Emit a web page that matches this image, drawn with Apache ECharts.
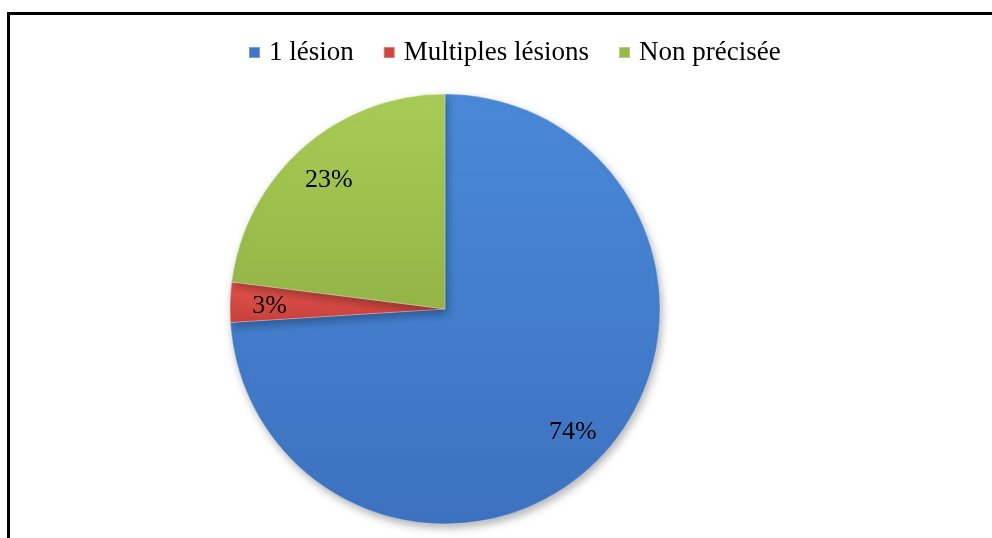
<!DOCTYPE html>
<html><head><meta charset="utf-8">
<script src="https://cdn.jsdelivr.net/npm/echarts@6/dist/echarts.min.js"></script>
<style>html,body{margin:0;padding:0;background:#fff}#c{width:992px;height:538px}</style>
</head><body><div id="c"></div>
<script>
const categories = ['1 lésion', 'Multiples lésions', 'Non précisée'];
const values = [74, 3, 23];
const topColors = ['#4a89d8', '#e2534c', '#a9cc56'];
const bottomColors = ['#3c72c0', '#c8403b', '#93b546'];
const legendColors = ['#3f78c8', '#d04540', '#98b84a'];

const chart = echarts.init(document.getElementById('c'));
const font = 'Liberation Serif';
const grad = (i) => new echarts.graphic.LinearGradient(0, 0, 0, 1, [
  { offset: 0, color: topColors[i] }, { offset: 1, color: bottomColors[i] }]);
const data = categories.map((n, i) => ({ name: n, value: values[i], itemStyle: { color: grad(i) } }));
const labelData = categories.map((n, i) => ({ name: n, value: values[i] }));
chart.setOption({
  animation: false,
  color: legendColors,
  legend: {
    top: 34, left: 243,
    itemWidth: 11, itemHeight: 11, itemGap: 29,
    icon: 'rect',
    textStyle: { fontFamily: font, fontSize: 27, color: '#000', padding: [0, 0, 0, 4] },
    data: categories.map((n, i) => ({ name: n, itemStyle: { color: legendColors[i] } }))
  },
  graphic: [{
    type: 'rect', silent: true, z: 100,
    shape: { x: 8.5, y: 13.5, width: 1200, height: 800 },
    style: { fill: 'none', stroke: '#000', lineWidth: 3 }
  }],
  series: [{
    type: 'pie', center: [445, 309], radius: [0, 215],
    startAngle: 90, clockwise: true,
    label: { show: false }, labelLine: { show: false },
    itemStyle: { borderColor: 'rgba(255,255,255,0.3)', borderWidth: 1,
      shadowColor: 'rgba(0,0,0,0.3)', shadowBlur: 8, shadowOffsetX: 2, shadowOffsetY: 4 },
    data: data
  }, {
    type: 'pie', center: [445, 312], radius: [130, 215], silent: true,
    startAngle: 90, clockwise: true, z: 5,
    itemStyle: { color: 'rgba(0,0,0,0)' },
    label: { show: true, position: 'inside', formatter: '{c}%', fontFamily: font, fontSize: 26, color: '#000' },
    labelLine: { show: false },
    data: labelData
  }]
});
</script></body></html>
